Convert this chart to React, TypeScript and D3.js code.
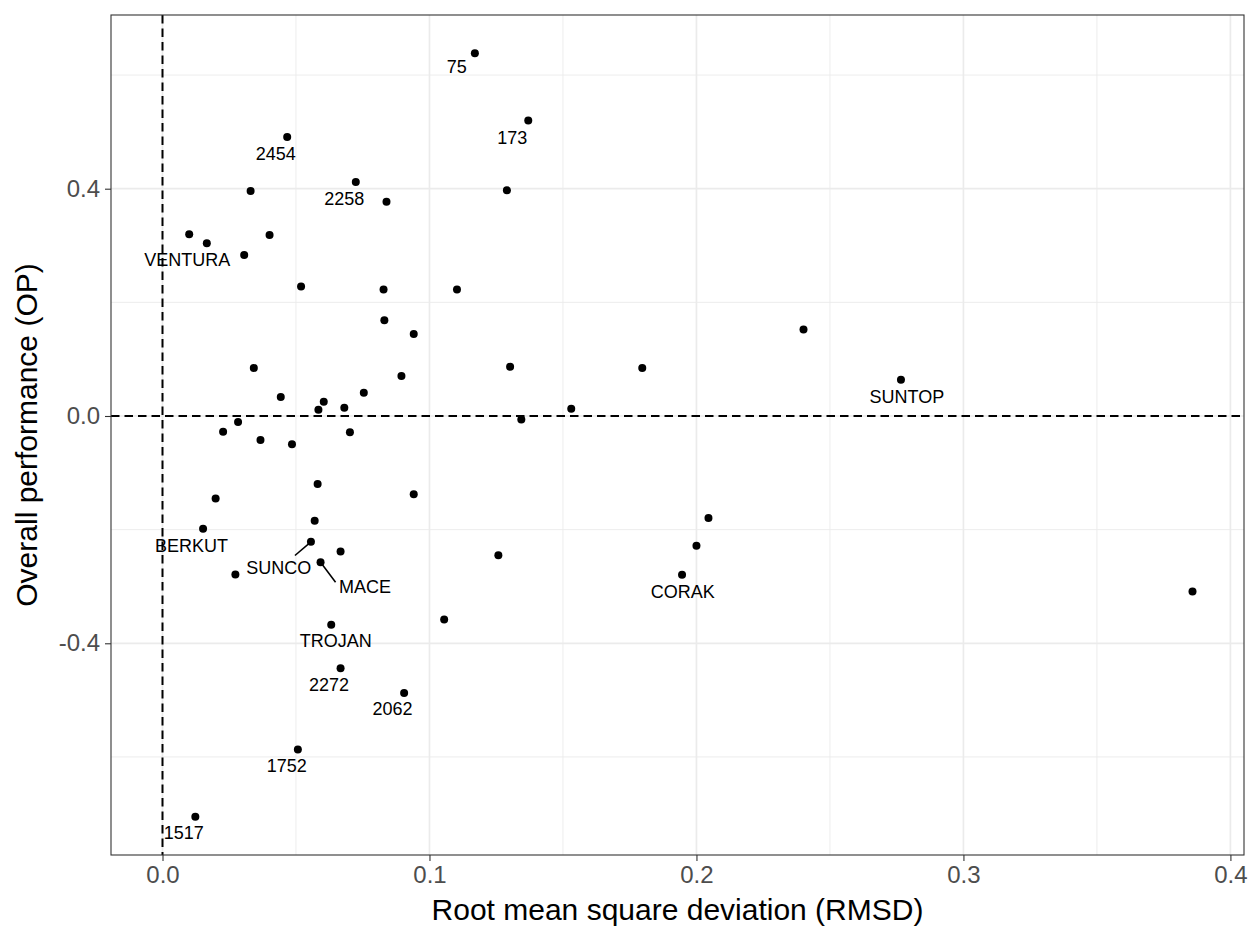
import React, { useEffect, useRef } from 'react';
import * as d3 from 'd3';

// genotype names ("" = not labelled in the figure)
const genotype = [
  '75', '173', '2454', '2258', '', '', '', '', '', '', 'VENTURA', '', '', '',
  '', '', '', '', '', '', '', '', '', '', '', '', '', '', '', '',
  '', '', '', '', 'BERKUT', 'SUNCO', '', '', 'MACE', '', 'TROJAN', '', '2272', '2062',
  '1752', '1517', '', '', '', 'SUNTOP', '', '', 'CORAK', ''
];

const rmsd = [
  0.1170, 0.1370, 0.0467, 0.0724, 0.0330, 0.0839, 0.1290, 0.0100, 0.0166, 0.0401, 0.0306, 0.0519, 0.0828, 0.1103,
  0.0831, 0.0941, 0.1302, 0.0342, 0.0895, 0.0754, 0.0443, 0.0604, 0.0584, 0.0681, 0.1344, 0.0283, 0.0227, 0.0702, 0.0367, 0.0485,
  0.0581, 0.0941, 0.0199, 0.0570, 0.0152, 0.0556, 0.0667, 0.1258, 0.0592, 0.0273, 0.0632, 0.1055, 0.0667, 0.0905,
  0.0507, 0.0123, 0.1797, 0.1531, 0.2401, 0.2766, 0.2045, 0.2000, 0.1946, 0.3858
];

const op = [
  0.6385, 0.5202, 0.4909, 0.4118, 0.3960, 0.3772, 0.3972, 0.3199, 0.3040, 0.3186, 0.2835, 0.2278, 0.2225, 0.2225,
  0.1687, 0.1441, 0.0866, 0.0844, 0.0703, 0.0410, 0.0334, 0.0251, 0.0111, 0.0146, -0.0060, -0.0105, -0.0276, -0.0288, -0.0422, -0.0499,
  -0.1195, -0.1378, -0.1453, -0.1845, -0.1986, -0.2214, -0.2385, -0.2450, -0.2573, -0.2789, -0.3673, -0.3580, -0.4441, -0.4875,
  -0.5870, -0.7054, 0.0844, 0.0128, 0.1522, 0.0638, -0.1793, -0.2285, -0.2794, -0.3088
];

const xTicks = [0, 0.1, 0.2, 0.3, 0.4];
const xMinor = [0.05, 0.15, 0.25, 0.35];
const yTicks = [-0.4, 0, 0.4];
const yMinor = [-0.6, -0.2, 0.2, 0.6];

// label placement (pixels from the point), like ggrepel put them
const labelPos: Record<string, { dx: number; dy: number; seg?: [number, number] }> = {
  '75': { dx: -18, dy: 13 },
  '173': { dx: -16, dy: 17 },
  '2454': { dx: -11.5, dy: 16.7 },
  '2258': { dx: -11.5, dy: 17 },
  VENTURA: { dx: -57, dy: 4.3 },
  BERKUT: { dx: -11.5, dy: 16.4 },
  SUNCO: { dx: -32.3, dy: 26, seg: [-16, 13.7] },
  MACE: { dx: 44.5, dy: 24.6, seg: [15, 20] },
  TROJAN: { dx: 4.6, dy: 15.7 },
  '2272': { dx: -11.5, dy: 16.3 },
  '2062': { dx: -11.5, dy: 15.3 },
  '1752': { dx: -11, dy: 16 },
  '1517': { dx: -11.6, dy: 15.6 },
  SUNTOP: { dx: 6, dy: 16.7 },
  CORAK: { dx: 0.7, dy: 16.7 }
};

const W = 1253;
const H = 926;
const margin = { left: 111, right: 9, top: 15, bottom: 71 };
const font = '"Liberation Sans", Arial, sans-serif';

export default function App() {
  const ref = useRef<SVGSVGElement>(null);

  useEffect(() => {
    const svg = d3.select(ref.current);
    svg.selectAll('*').remove();

    // ggplot style 5% expansion; the reference lines at 0 also train the scale
    const expand = (lo: number, hi: number) => {
      const e = (hi - lo) * 0.05;
      return [lo - e, hi + e];
    };
    const xd = expand(Math.min(0, d3.min(rmsd)!), d3.max(rmsd)!);
    const yd = expand(d3.min(op)!, d3.max(op)!);

    const x = d3.scaleLinear().domain(xd).range([margin.left, W - margin.right]);
    const y = d3.scaleLinear().domain(yd).range([H - margin.bottom, margin.top]);
    const [x0, x1] = x.range();
    const [y0, y1] = y.range();

    svg.append('rect')
      .attr('x', x0).attr('y', y1)
      .attr('width', x1 - x0).attr('height', y0 - y1)
      .attr('fill', 'white');

    const grid = svg.append('g');
    grid.selectAll('.xmin').data(xMinor).enter().append('line')
      .attr('x1', d => x(d)).attr('x2', d => x(d))
      .attr('y1', y1).attr('y2', y0)
      .attr('stroke', '#EBEBEB').attr('stroke-width', 0.9);
    grid.selectAll('.ymin').data(yMinor).enter().append('line')
      .attr('y1', d => y(d)).attr('y2', d => y(d))
      .attr('x1', x0).attr('x2', x1)
      .attr('stroke', '#EBEBEB').attr('stroke-width', 0.9);
    grid.selectAll('.xmaj').data(xTicks).enter().append('line')
      .attr('x1', d => x(d)).attr('x2', d => x(d))
      .attr('y1', y1).attr('y2', y0)
      .attr('stroke', '#EBEBEB').attr('stroke-width', 1.7);
    grid.selectAll('.ymaj').data(yTicks).enter().append('line')
      .attr('y1', d => y(d)).attr('y2', d => y(d))
      .attr('x1', x0).attr('x2', x1)
      .attr('stroke', '#EBEBEB').attr('stroke-width', 1.7);

    // dashed reference lines
    svg.append('line')
      .attr('x1', x(0)).attr('x2', x(0)).attr('y1', y1).attr('y2', y0)
      .attr('stroke', 'black').attr('stroke-width', 2).attr('stroke-dasharray', '8.5,5');
    svg.append('line')
      .attr('y1', y(0)).attr('y2', y(0)).attr('x1', x0).attr('x2', x1)
      .attr('stroke', 'black').attr('stroke-width', 2).attr('stroke-dasharray', '8.5,5');

    const idx = d3.range(rmsd.length);

    // repel segments
    svg.append('g').selectAll('line')
      .data(idx.filter(i => labelPos[genotype[i]] && labelPos[genotype[i]].seg))
      .enter().append('line')
      .attr('x1', i => x(rmsd[i])).attr('y1', i => y(op[i]))
      .attr('x2', i => x(rmsd[i]) + labelPos[genotype[i]].seg![0])
      .attr('y2', i => y(op[i]) + labelPos[genotype[i]].seg![1])
      .attr('stroke', 'black').attr('stroke-width', 1.6);

    svg.append('g').selectAll('circle').data(idx).enter().append('circle')
      .attr('cx', i => x(rmsd[i])).attr('cy', i => y(op[i]))
      .attr('r', 4).attr('fill', 'black');

    svg.append('g').selectAll('text')
      .data(idx.filter(i => genotype[i] !== ''))
      .enter().append('text')
      .attr('x', i => x(rmsd[i]) + labelPos[genotype[i]].dx)
      .attr('y', i => y(op[i]) + labelPos[genotype[i]].dy + 6.5)
      .attr('text-anchor', 'middle')
      .attr('font-family', font).attr('font-size', 18).attr('fill', 'black')
      .text(i => genotype[i]);

    // panel border
    svg.append('rect')
      .attr('x', x0).attr('y', y1)
      .attr('width', x1 - x0).attr('height', y0 - y1)
      .attr('fill', 'none').attr('stroke', '#333333').attr('stroke-width', 1.1);

    // axes
    const xAxis = svg.append('g').attr('transform', `translate(0,${y0})`)
      .call(d3.axisBottom(x).tickValues(xTicks).tickFormat(d3.format('.1f')).tickSize(6).tickPadding(5));
    const yAxis = svg.append('g').attr('transform', `translate(${x0},0)`)
      .call(d3.axisLeft(y).tickValues(yTicks).tickFormat(d => d3.format('.1f')(d as number).replace('−', '-')).tickSize(6).tickPadding(5));
    [xAxis, yAxis].forEach(a => {
      a.select('.domain').remove();
      a.selectAll('line').attr('stroke', '#333333').attr('stroke-width', 1.1);
      a.selectAll('text').attr('fill', '#4D4D4D').attr('font-size', 24).attr('font-family', font);
    });

    svg.append('text')
      .attr('x', (x0 + x1) / 2).attr('y', 920)
      .attr('text-anchor', 'middle')
      .attr('font-family', font).attr('font-size', 30).attr('fill', 'black')
      .text('Root mean square deviation (RMSD)');
    svg.append('text')
      .attr('transform', `translate(37,${(y0 + y1) / 2}) rotate(-90)`)
      .attr('text-anchor', 'middle')
      .attr('font-family', font).attr('font-size', 30).attr('fill', 'black')
      .text('Overall performance (OP)');
  }, []);

  return (
    <svg ref={ref} width={W} height={H}
      style={{ position: 'absolute', left: 0, top: 0, background: 'white' }} />
  );
}
